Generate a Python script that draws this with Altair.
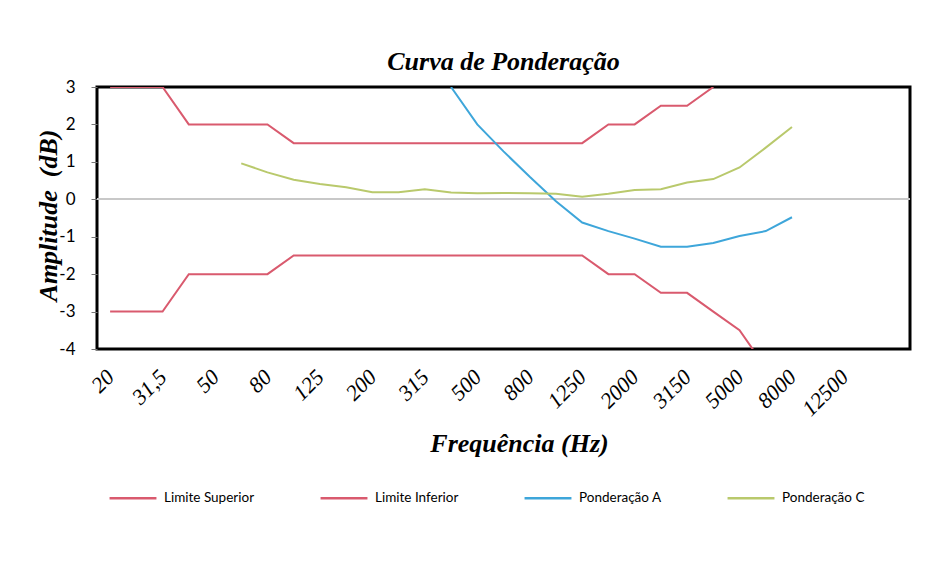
import altair as alt
import pandas as pd

# Frequency bands (1/3 octave), in chart order
freq = ["20", "25", "31,5", "40", "50", "63", "80", "100", "125", "160", "200",
        "250", "315", "400", "500", "630", "800", "1000", "1250", "1600", "2000",
        "2500", "3150", "4000", "5000", "6300", "8000", "10000", "12500", "16000", "20000"]

# Axis labels shown (every other band)
x_labels = ["20", "31,5", "50", "80", "125", "200", "315", "500", "800", "1250",
            "2000", "3150", "5000", "8000", "12500"]

y_ticks = [-4, -3, -2, -1, 0, 1, 2, 3]

limite_superior = [3, 3, 3, 2, 2, 2, 2, 1.5, 1.5, 1.5, 1.5, 1.5, 1.5, 1.5, 1.5, 1.5,
                   1.5, 1.5, 1.5, 2, 2, 2.5, 2.5, 3]
limite_inferior = [-3, -3, -3, -2, -2, -2, -2, -1.5, -1.5, -1.5, -1.5, -1.5, -1.5, -1.5,
                   -1.5, -1.5, -1.5, -1.5, -1.5, -2, -2, -2.5, -2.5, -3, -3.5, -4.5]
ponderacao_a = [None] * 13 + [3.0, 2.0, 1.28, 0.6, -0.05, -0.62, -0.85, -1.05, -1.27,
                              -1.27, -1.17, -0.98, -0.85, -0.48]
ponderacao_c = [None] * 5 + [0.96, 0.72, 0.52, 0.41, 0.32, 0.19, 0.19, 0.27, 0.18, 0.16,
                             0.17, 0.16, 0.15, 0.07, 0.15, 0.25, 0.27, 0.45, 0.54, 0.85,
                             1.38, 1.93]

series = ["Limite Superior", "Limite Inferior", "Ponderação A", "Ponderação C"]
colors = ["#d95a6e", "#d95a6e", "#3ea6da", "#b9c96c"]

rows = []
for name, vals in zip(series, [limite_superior, limite_inferior, ponderacao_a, ponderacao_c]):
    for i, v in enumerate(vals):
        if v is not None:
            rows.append({"freq": freq[i], "serie": name, "valor": v, "ordem": i})
df = pd.DataFrame(rows)

serif = "Liberation Serif"
sans = "Lato"

x_enc = alt.X(
    "freq:O",
    sort=freq,
    scale=alt.Scale(domain=freq, padding=0.5),
    axis=alt.Axis(
        values=x_labels,
        labelAngle=-45,
        labelAlign="right",
        labelBaseline="middle",
        labelPadding=24,
        labelFont=serif,
        labelFontStyle="italic",
        labelFontSize=22,
        labelColor="black",
        labelOverlap=False,
        ticks=False,
        domain=False,
        grid=False,
        title="Frequência (Hz)",
        titleFont=serif,
        titleFontStyle="italic",
        titleFontWeight="bold",
        titleFontSize=26,
        titleColor="black",
        titleX=422,
        titleY=94,
        titleAlign="center",
        titleBaseline="middle",
    ),
)

y_scale = alt.Scale(domain=[-4, 3], nice=False, zero=False)
y_axis = alt.Axis(
    values=y_ticks,
    labelExpr="'' + datum.value",
    labelFont=sans,
    labelFontSize=17,
    labelColor="black",
    labelPadding=16,
    labelOverlap=False,
    labelBound=False,
    tickSize=6,
    tickColor="#777777",
    domain=False,
    grid=False,
    title="Amplitude\u00a0 (dB)",
    titleFont=serif,
    titleFontStyle="italic",
    titleFontWeight="bold",
    titleFontSize=26,
    titleColor="black",
    titleX=-49,
    titleY=128,
    titleAngle=-90,
    titleAlign="center",
    titleBaseline="middle",
)

lines = alt.Chart(df).mark_line(strokeWidth=2, clip=True).encode(
    x=x_enc,
    y=alt.Y("valor:Q", scale=y_scale, axis=y_axis),
    color=alt.Color(
        "serie:N",
        scale=alt.Scale(domain=series, range=colors),
        legend=alt.Legend(
            title=None,
            orient="none",
            direction="horizontal",
            legendX=11,
            legendY=386,
            symbolType="stroke",
            symbolSize=2200,
            symbolStrokeWidth=2.5,
            labelFont=sans,
            labelFontSize=13.5,
            labelColor="black",
            labelOffset=6,
            columnPadding=60,
        ),
    ),
    order="ordem:Q",
    detail="serie:N",
)

zero_line = alt.Chart(df).mark_rule(color="#c8c8c8", strokeWidth=1).encode(
    y=alt.YDatum(0, scale=y_scale, axis=y_axis)
)

chart = (
    alt.layer(zero_line, lines)
    .properties(
        width=813,
        height=262,
        background="white",
        autosize=alt.AutoSizeParams(type="none"),
        padding={"left": 89, "top": 79, "right": 15, "bottom": 200},
        title=alt.TitleParams(
            "Curva de Ponderação",
            font=serif,
            fontStyle="italic",
            fontWeight="bold",
            fontSize=26,
            color="black",
            anchor="middle",
            offset=3,
        ),
    )
    .configure_axisY(labelOverlap=False)
    .configure_view(stroke="black", strokeWidth=3)
)

chart.save("out.html", embed_options={"renderer": "svg", "actions": False})
